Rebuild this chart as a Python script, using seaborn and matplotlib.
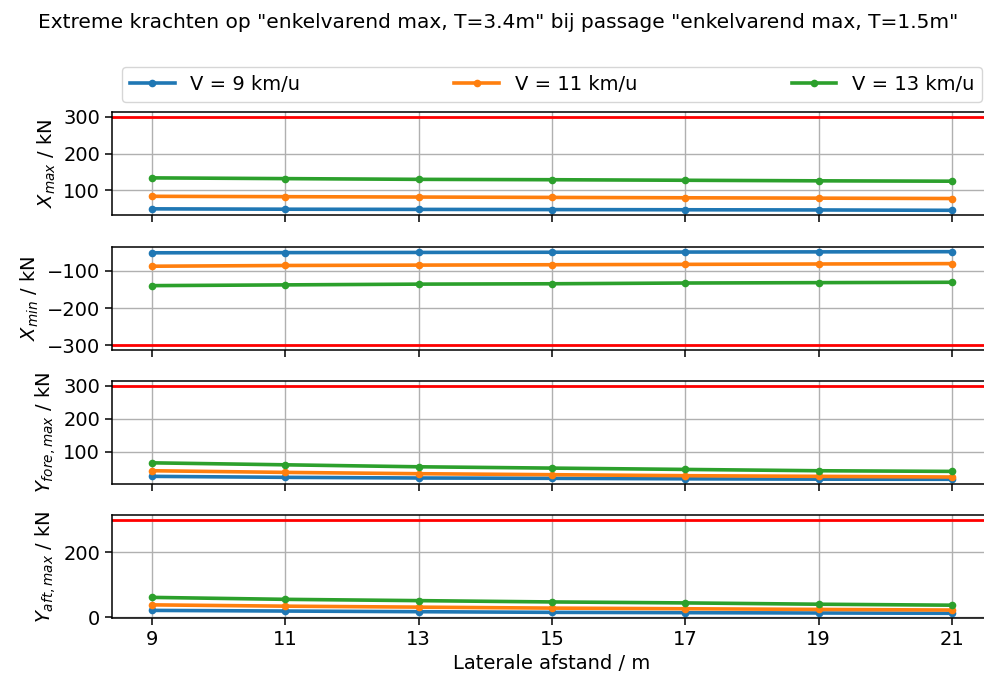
import matplotlib
matplotlib.use("Agg")
import matplotlib.pyplot as plt
import seaborn as sns
import pandas as pd
import numpy as np

afstand = [9, 11, 13, 15, 17, 19, 21]
snelheden = ["V = 9 km/u", "V = 11 km/u", "V = 13 km/u"]

x_max = {
    "V = 9 km/u": [50, 49, 48.5, 48, 47.5, 47, 46],
    "V = 11 km/u": [84, 83, 82, 81, 80, 79, 78],
    "V = 13 km/u": [134, 132, 130, 129, 127.5, 126, 125],
}
x_min = {
    "V = 9 km/u": [-52, -51.5, -51, -50.5, -50, -49.5, -49],
    "V = 11 km/u": [-88, -86, -85, -84, -83, -82, -81],
    "V = 13 km/u": [-140, -138, -136, -135, -133, -132, -131],
}
y_fore_max = {
    "V = 9 km/u": [25, 22, 20, 19, 17.5, 16.5, 16],
    "V = 11 km/u": [42, 37, 33, 30, 27, 25, 23],
    "V = 13 km/u": [66, 60, 54, 50, 46, 42, 40],
}
y_aft_max = {
    "V = 9 km/u": [21, 19, 17, 15, 14, 13, 12],
    "V = 11 km/u": [38, 34, 31, 28, 26, 24, 22],
    "V = 13 km/u": [61, 55, 51, 47, 44, 40, 37],
}
limieten = [300, -300, 300, 300]
yticks = [[100, 200, 300], [-300, -200, -100], [100, 200, 300], [0, 200]]
ylabels = [r"$X_{max}$ / kN", r"$X_{min}$ / kN", r"$Y_{fore,max}$ / kN", r"$Y_{aft,max}$ / kN"]
titel = 'Extreme krachten op "enkelvarend max, T=3.4m" bij passage "enkelvarend max, T=1.5m"'

W, H = 984, 680
FS = 14
plt.rcParams.update({"font.size": FS, "xtick.labelsize": FS, "ytick.labelsize": FS,
                     "axes.labelsize": FS, "axes.linewidth": 1.1,
                     "xtick.major.width": 1.1, "ytick.major.width": 1.1,
                     "grid.linewidth": 1.0})
fig = plt.figure(figsize=(W / 100, H / 100), dpi=100)

boxes = [(112, 215), (247, 350), (381, 484), (515, 618)]
left_px, right_px = 112, 992
axes = []
for i, (t, b) in enumerate(boxes):
    ax = fig.add_axes([left_px / W, 1 - b / H, (right_px - left_px) / W, (b - t) / H],
                      sharex=axes[0] if axes else None)
    axes.append(ax)

palette = ["#1f77b4", "#ff7f0e", "#2ca02c"]
datasets = [x_max, x_min, y_fore_max, y_aft_max]

for i, (ax, data) in enumerate(zip(axes, datasets)):
    rows = []
    for s in snelheden:
        for a, v in zip(afstand, data[s]):
            rows.append({"afstand": a, "kracht": v, "snelheid": s})
    df = pd.DataFrame(rows)
    sns.lineplot(data=df, x="afstand", y="kracht", hue="snelheid", hue_order=snelheden,
                 palette=palette, marker="o", markersize=5.5, markeredgewidth=0,
                 linewidth=2.6, ax=ax, legend=(i == 0), errorbar=None)
    ax.axhline(limieten[i], color="red", linewidth=2)
    ax.grid(True)
    ax.set_ylabel(ylabels[i])
    ax.set_xlabel("")
    ax.set_xticks(afstand)
    ax.set_yticks(yticks[i])
    if i < 3:
        ax.tick_params(labelbottom=False)
    ax.tick_params(length=5)

axes[3].set_xlabel("Laterale afstand / m")
axes[3].set_xlim(8.4, 21.6)

handles, labels = axes[0].get_legend_handles_labels()
axes[0].get_legend().remove()
fig.legend(handles, labels, loc="lower left", ncol=3, mode="expand",
           bbox_to_anchor=(122 / W, 1 - 102 / H, (982 - 122) / W, 38 / H),
           fontsize=FS, borderaxespad=0, handlelength=2.3)

fig.suptitle(titel, x=498 / W, y=1 - 22 / H, va="center", fontsize=14.5)

fig.savefig("out.png", dpi=100)
